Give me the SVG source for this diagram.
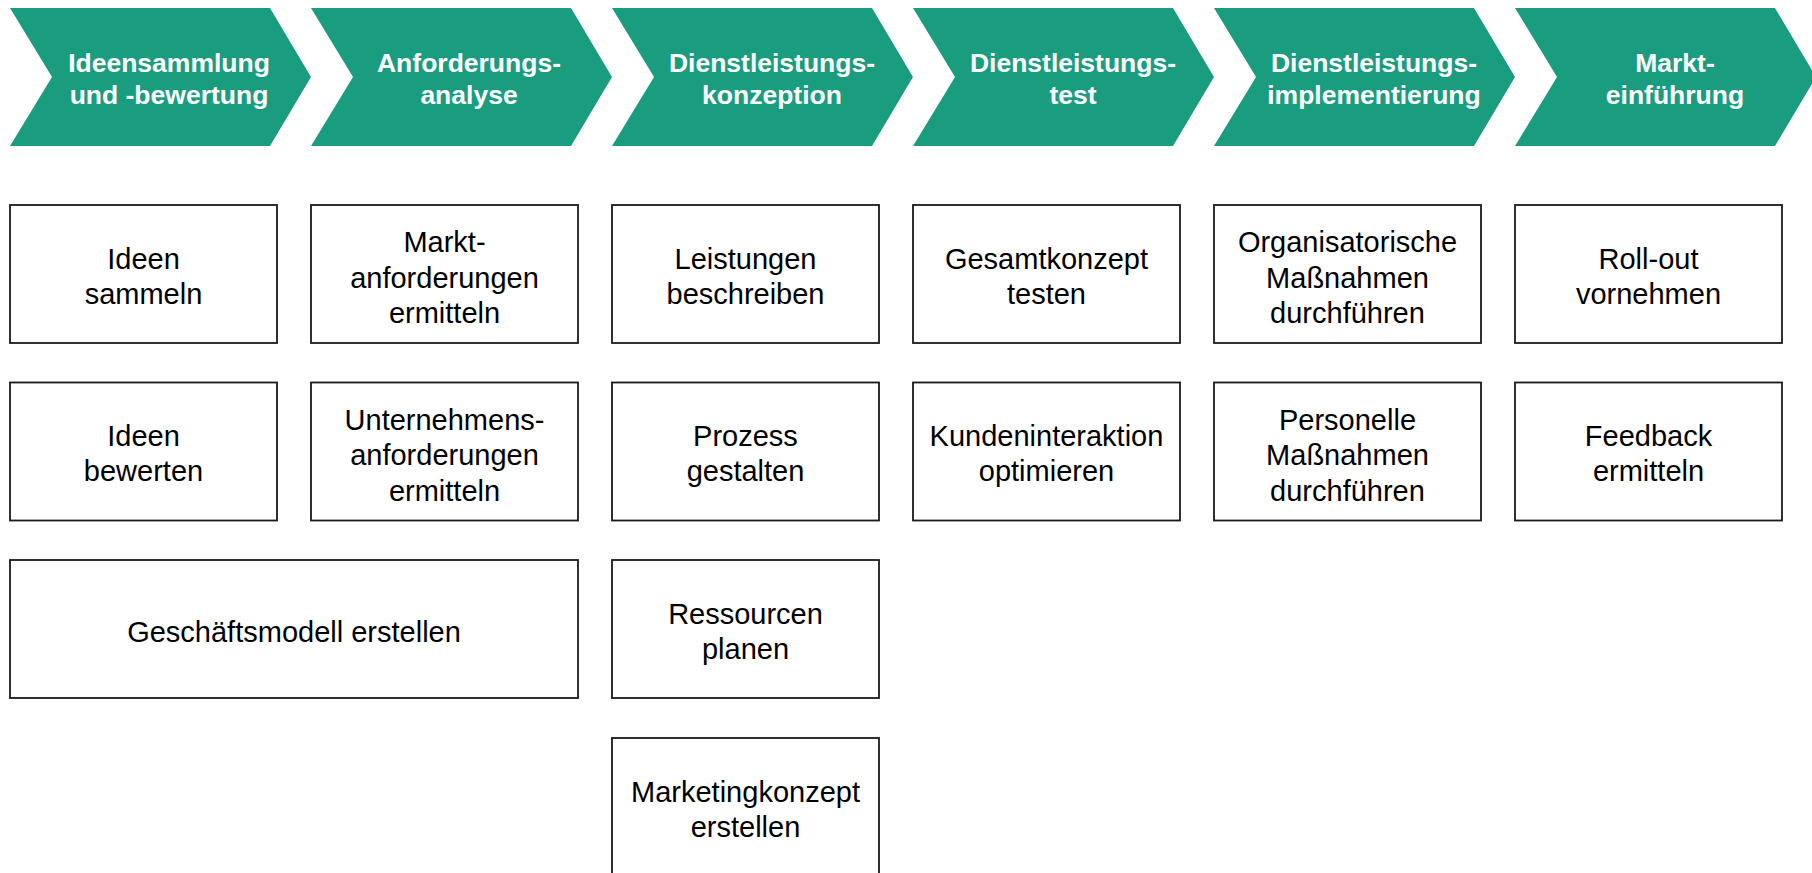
<svg xmlns="http://www.w3.org/2000/svg" width="1812" height="873" viewBox="0 0 1812 873">
<defs>
<style>
.chev{fill:#1A9D7E;stroke:none}
.ct{font-family:"Liberation Sans",Arial,sans-serif;font-weight:bold;font-size:26.5px;fill:#ffffff;text-anchor:middle}
.box{fill:#ffffff;stroke:#1a1a1a;stroke-width:1.8}
.bt{font-family:"Liberation Sans",Arial,sans-serif;font-size:29px;fill:#000000;text-anchor:middle}
</style>
</defs>
<rect width="1812" height="873" fill="#ffffff"/>
<g id="phases">
<g id="p1"><polygon class="chev" points="10,8 270,8 311,77 270,146 10,146 52,77"/><text class="ct" x="169" y="72">Ideensammlung</text><text class="ct" x="169" y="104">und -bewertung</text></g>
<g id="p2"><polygon class="chev" points="311,8 571,8 612,77 571,146 311,146 353,77"/><text class="ct" x="469" y="72">Anforderungs-</text><text class="ct" x="469" y="104">analyse</text></g>
<g id="p3"><polygon class="chev" points="612,8 872,8 913,77 872,146 612,146 654,77"/><text class="ct" x="772" y="72">Dienstleistungs-</text><text class="ct" x="772" y="104">konzeption</text></g>
<g id="p4"><polygon class="chev" points="913,8 1173,8 1214,77 1173,146 913,146 955,77"/><text class="ct" x="1073" y="72">Dienstleistungs-</text><text class="ct" x="1073" y="104">test</text></g>
<g id="p5"><polygon class="chev" points="1214,8 1474,8 1515,77 1474,146 1214,146 1256,77"/><text class="ct" x="1374" y="72">Dienstleistungs-</text><text class="ct" x="1374" y="104">implementierung</text></g>
<g id="p6"><polygon class="chev" points="1515,8 1775,8 1816,77 1775,146 1515,146 1557,77"/><text class="ct" x="1675" y="72">Markt-</text><text class="ct" x="1675" y="104">einführung</text></g>
</g>
<g id="connectors"></g>
<g id="n11"><rect class="box" x="10" y="205" width="267" height="138"/><text class="bt" x="143.5" y="268.5">Ideen</text><text class="bt" x="143.5" y="303.5">sammeln</text></g>
<g id="n12"><rect class="box" x="10" y="382.5" width="267" height="138"/><text class="bt" x="143.5" y="446">Ideen</text><text class="bt" x="143.5" y="481">bewerten</text></g>
<g id="n13"><rect class="box" x="10" y="560" width="568" height="138"/><text class="bt" x="294" y="642">Geschäftsmodell erstellen</text></g>
<g id="n21"><rect class="box" x="311" y="205" width="267" height="138"/><text class="bt" x="444.5" y="252">Markt-</text><text class="bt" x="444.5" y="287.5">anforderungen</text><text class="bt" x="444.5" y="323">ermitteln</text></g>
<g id="n22"><rect class="box" x="311" y="382.5" width="267" height="138"/><text class="bt" x="444.5" y="429.5">Unternehmens-</text><text class="bt" x="444.5" y="465">anforderungen</text><text class="bt" x="444.5" y="500.5">ermitteln</text></g>
<g id="n31"><rect class="box" x="612" y="205" width="267" height="138"/><text class="bt" x="745.5" y="268.5">Leistungen</text><text class="bt" x="745.5" y="303.5">beschreiben</text></g>
<g id="n32"><rect class="box" x="612" y="382.5" width="267" height="138"/><text class="bt" x="745.5" y="446">Prozess</text><text class="bt" x="745.5" y="481">gestalten</text></g>
<g id="n33"><rect class="box" x="612" y="560" width="267" height="138"/><text class="bt" x="745.5" y="623.5">Ressourcen</text><text class="bt" x="745.5" y="658.5">planen</text></g>
<g id="n34"><rect class="box" x="612" y="738" width="267" height="138"/><text class="bt" x="745.5" y="801.5">Marketingkonzept</text><text class="bt" x="745.5" y="836.5">erstellen</text></g>
<g id="n41"><rect class="box" x="913" y="205" width="267" height="138"/><text class="bt" x="1046.5" y="268.5">Gesamtkonzept</text><text class="bt" x="1046.5" y="303.5">testen</text></g>
<g id="n42"><rect class="box" x="913" y="382.5" width="267" height="138"/><text class="bt" x="1046.5" y="446">Kundeninteraktion</text><text class="bt" x="1046.5" y="481">optimieren</text></g>
<g id="n51"><rect class="box" x="1214" y="205" width="267" height="138"/><text class="bt" x="1347.5" y="252">Organisatorische</text><text class="bt" x="1347.5" y="287.5">Maßnahmen</text><text class="bt" x="1347.5" y="323">durchführen</text></g>
<g id="n52"><rect class="box" x="1214" y="382.5" width="267" height="138"/><text class="bt" x="1347.5" y="429.5">Personelle</text><text class="bt" x="1347.5" y="465">Maßnahmen</text><text class="bt" x="1347.5" y="500.5">durchführen</text></g>
<g id="n61"><rect class="box" x="1515" y="205" width="267" height="138"/><text class="bt" x="1648.5" y="268.5">Roll-out</text><text class="bt" x="1648.5" y="303.5">vornehmen</text></g>
<g id="n62"><rect class="box" x="1515" y="382.5" width="267" height="138"/><text class="bt" x="1648.5" y="446">Feedback</text><text class="bt" x="1648.5" y="481">ermitteln</text></g>
</svg>
